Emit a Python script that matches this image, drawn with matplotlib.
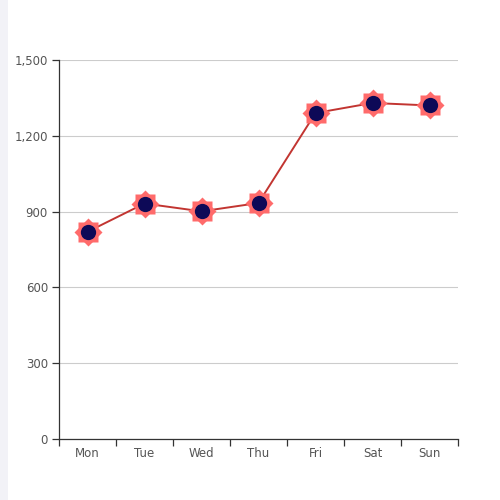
import matplotlib
matplotlib.use("Agg")
import matplotlib.pyplot as plt
from matplotlib.patches import FancyBboxPatch
from matplotlib.ticker import FuncFormatter, FixedLocator

# data
days = ['Mon', 'Tue', 'Wed', 'Thu', 'Fri', 'Sat', 'Sun']
values = [820, 932, 901, 934, 1290, 1330, 1320]
y_ticks = [0, 300, 600, 900, 1200, 1500]

plt.rcParams['font.family'] = ['DejaVu Sans']

fig = plt.figure(figsize=(5, 5), dpi=100)
fig.patch.set_facecolor('#f2f2f7')

# white panel with a rounded corner on the left
panel = FancyBboxPatch((8 / 500, -0.05), 1.1, 1.1, boxstyle="round,pad=0,rounding_size=0.02",
                       transform=fig.transFigure, facecolor='white', edgecolor='none', zorder=0)
fig.patches.append(panel)

ax = fig.add_axes([0.118, 0.122, 0.798, 0.758])
ax.set_facecolor('none')
ax.set_zorder(2)

x = list(range(len(days)))
ax.plot(x, values, color='#c23531', linewidth=1.4, zorder=3)
# star-like symbol: square + diamond, with a dark dot on top
ax.plot(x, values, linestyle='none', marker='s', markersize=14,
        markerfacecolor='#ff6b6b', markeredgecolor='none', zorder=4)
ax.plot(x, values, linestyle='none', marker='D', markersize=14,
        markerfacecolor='#ff6b6b', markeredgecolor='none', zorder=4)
ax.plot(x, values, linestyle='none', marker='o', markersize=11,
        markerfacecolor='#0d0957', markeredgecolor='none', zorder=5)

ax.set_xlim(-0.5, len(days) - 0.5)
ax.set_ylim(0, 1500)
ax.set_yticks(y_ticks)
ax.yaxis.set_major_formatter(FuncFormatter(lambda v, p: f'{int(v):,}'))
ax.grid(axis='y', color='#cccccc', linewidth=0.8)
ax.set_axisbelow(True)

# x ticks at band boundaries, labels at band centres
ax.set_xticks(x)
ax.set_xticklabels(days)
ax.tick_params(axis='x', which='major', length=0, pad=6, labelsize=8.5, labelcolor='#555555')
ax.xaxis.set_minor_locator(FixedLocator([i - 0.5 for i in range(len(days) + 1)]))
ax.tick_params(axis='x', which='minor', length=5, color='#333333', width=0.9)
ax.tick_params(axis='y', length=5, color='#333333', width=0.9, labelsize=8.5, labelcolor='#555555', pad=3)

for s in ['top', 'right']:
    ax.spines[s].set_visible(False)
for s in ['left', 'bottom']:
    ax.spines[s].set_color('#333333')
    ax.spines[s].set_linewidth(0.9)

fig.savefig('out.png', dpi=100)
